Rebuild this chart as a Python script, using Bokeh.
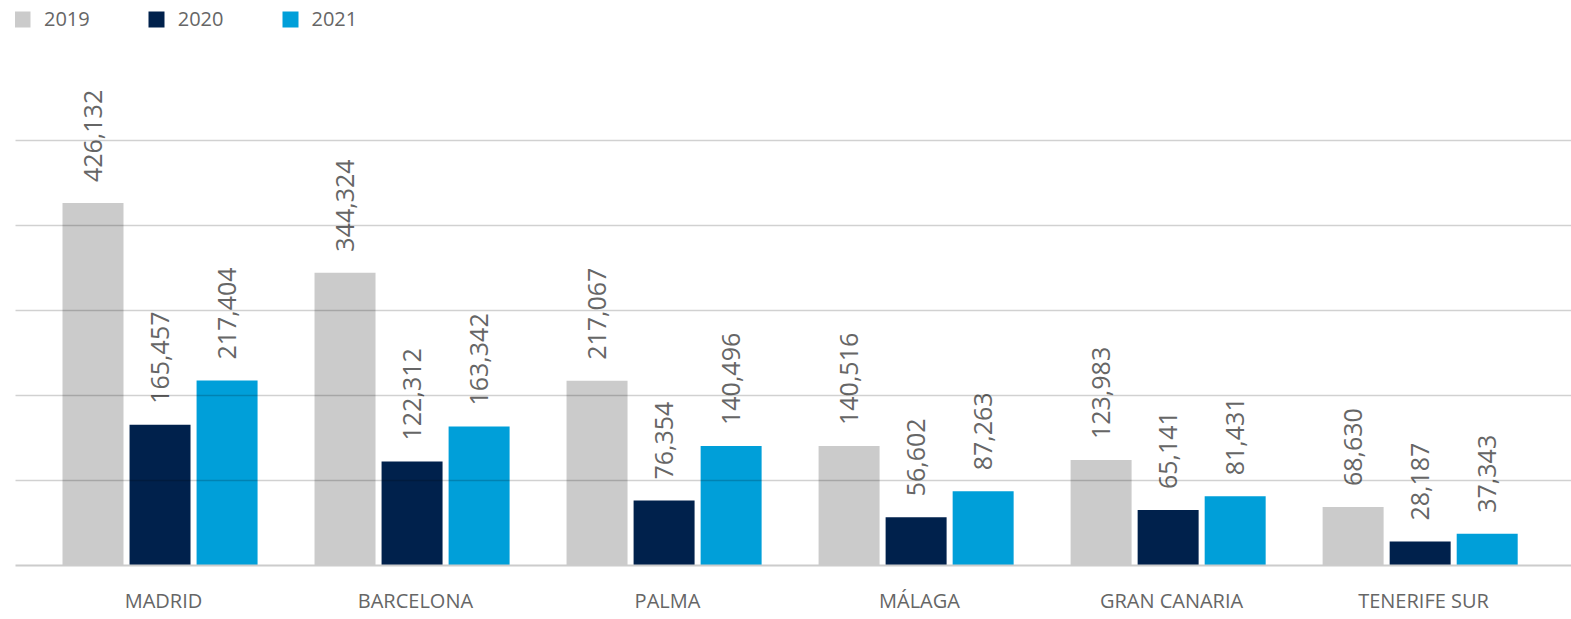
from bokeh.plotting import figure
from bokeh.models import ColumnDataSource, FactorRange, Range1d, FixedTicker, Legend, LegendItem
from bokeh.transform import dodge
from bokeh.core.properties import value
from bokeh.embed import file_html
from bokeh.resources import INLINE
import math

cities = ["MADRID", "BARCELONA", "PALMA", "MÁLAGA", "GRAN CANARIA", "TENERIFE SUR"]
years = ["2019", "2020", "2021"]
v2019 = [426132, 344324, 217067, 140516, 123983, 68630]
v2020 = [165457, 122312, 76354, 56602, 65141, 28187]
v2021 = [217404, 163342, 140496, 87263, 81431, 37343]
grid_ticks = [0, 100000, 200000, 300000, 400000, 500000]

colors = ["#cbcbcb", "#00214c", "#009fd9"]
shift = -0.0135
offsets = [-0.266 + shift, 0.0 + shift, 0.266 + shift]
FONT = "Open Sans"
TXT = "#666666"

src = ColumnDataSource(dict(
    city=cities,
    y2019=v2019, y2020=v2020, y2021=v2021,
    l2019=[f"{v:,}" for v in v2019],
    l2020=[f"{v:,}" for v in v2020],
    l2021=[f"{v:,}" for v in v2021],
))

x_range = FactorRange(factors=cities, range_padding=0.029, range_padding_units="percent")
y_range = Range1d(0, 657200)

p = figure(width=1571, height=619, x_range=x_range, y_range=y_range,
           output_backend="svg", toolbar_location=None,
           min_border_left=15, min_border_right=0, min_border_top=6, min_border_bottom=54)
p.outline_line_color = None
p.background_fill_color = "white"
p.border_fill_color = "white"

items = []
for yr, col, off in zip(years, colors, offsets):
    r = p.vbar(x=dodge("city", off, range=p.x_range), top="y" + yr, width=0.242,
               source=src, fill_color=col, line_color=None)
    items.append(LegendItem(label=yr, renderers=[r]))
    p.text(x=dodge("city", off, range=p.x_range), y="y" + yr, text="l" + yr, source=src,
           angle=math.pi / 2, text_align="left", text_baseline="middle",
           y_offset=-21, text_font=value(FONT), text_font_size="25px", text_color=TXT)

p.yaxis.visible = False
p.xgrid.visible = False
p.ygrid.ticker = FixedTicker(ticks=grid_ticks)
p.ygrid.grid_line_color = "black"
p.ygrid.grid_line_alpha = 0.18
p.ygrid.grid_line_width = 1.5
p.ygrid.level = "overlay"

ax = p.xaxis[0]
ax.axis_line_color = "#cccccc"
ax.axis_line_width = 2
ax.major_tick_line_color = None
ax.minor_tick_line_color = None
ax.major_tick_out = 0
ax.major_label_standoff = 21
ax.major_label_text_font = FONT
ax.major_label_text_font_size = "20px"
ax.major_label_text_color = TXT

legend = Legend(items=items, orientation="horizontal", location=(-3, 533),
                margin=0, padding=0, spacing=56, glyph_width=20, glyph_height=20,
                label_standoff=12, label_text_font=FONT, label_text_font_size="20px",
                label_text_color=TXT, border_line_color=None, background_fill_alpha=0)
p.add_layout(legend, "center")

open("out.html", "w").write(file_html(p, INLINE))
